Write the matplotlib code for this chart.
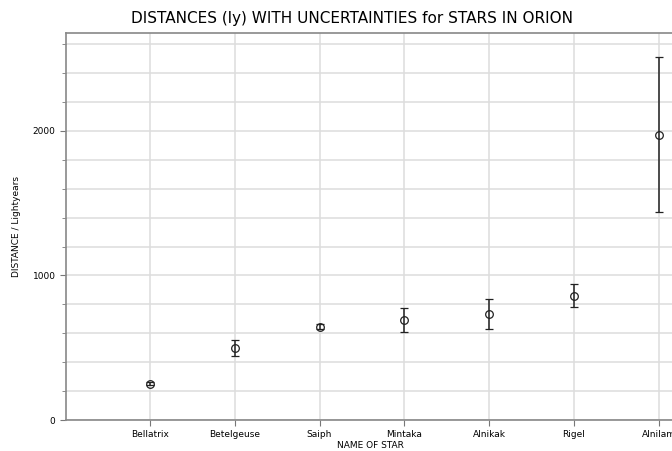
import numpy as np
import matplotlib
matplotlib.use('Agg')
from matplotlib import pyplot as plt
from matplotlib.ticker import MultipleLocator

stars = ['Bellatrix', 'Betelgeuse', 'Saiph', 'Mintaka', 'Alnikak', 'Rigel', 'Alnilam']
distance = [252, 497, 647, 691, 736, 860, 1975]
uncertainty = [8, 55, 20, 83, 104, 78, 534]

fig = plt.figure(figsize=(6.72, 4.51), dpi=100)
# the original chart is cut off on the right, so the axes run to the edge
ax = fig.add_axes([66/672, 31/451, 608/672, 387/451])

x = np.arange(len(stars))
ax.errorbar(x, distance, yerr=uncertainty, fmt='o', mfc='none', mec='#222222',
            ms=5.5, mew=0.9, ecolor='#222222', elinewidth=1.1, capsize=3, capthick=1.0, zorder=3)

ax.set_xlim(-0.99, 6.18)
ax.set_ylim(0, 2678)
ax.set_xticks(x)
ax.set_xticklabels(stars, fontsize=6.5)
ax.yaxis.set_major_locator(MultipleLocator(1000))
ax.yaxis.set_minor_locator(MultipleLocator(200))
ax.tick_params(axis='y', labelsize=6.5, which='major', length=4, color='#777777')
ax.tick_params(axis='y', which='minor', length=3, color='#777777')
ax.tick_params(axis='x', length=4, color='#777777')

ax.grid(True, which='both', axis='y', color='#dddddd', lw=1.1)
ax.grid(True, which='major', axis='x', color='#dddddd', lw=1.1)
ax.set_axisbelow(True)
for s in ['left', 'bottom', 'top']:
    ax.spines[s].set_color('#888888')
    ax.spines[s].set_linewidth(1.2)
ax.spines['right'].set_visible(False)

ax.set_xlabel('NAME OF STAR', fontsize=6.5, labelpad=1)
ax.set_ylabel('DISTANCE / Lightyears', fontsize=6.5, labelpad=8)
fig.text(352/672, 1 - 18/451, 'DISTANCES (ly) WITH UNCERTAINTIES for STARS IN ORION',
         ha='center', va='center', fontsize=11)

plt.savefig('out.png', dpi=100)
